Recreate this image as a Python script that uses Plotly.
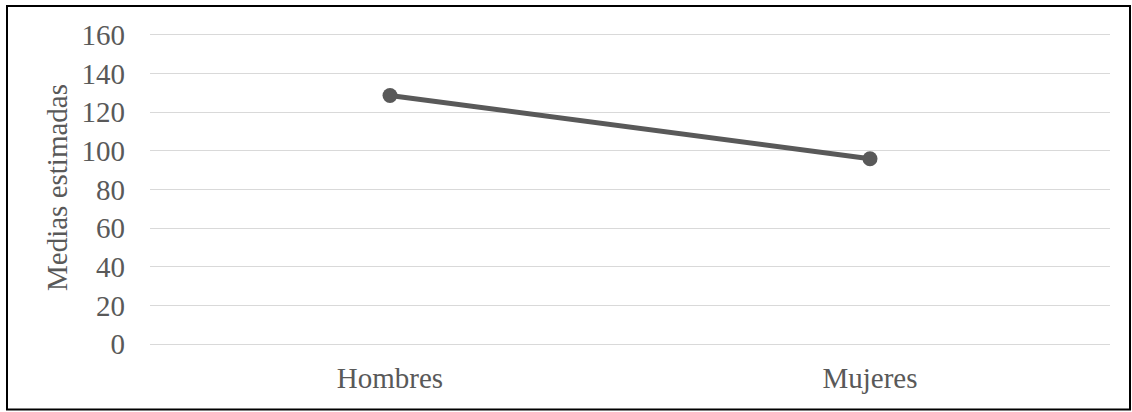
import plotly.graph_objects as go

categories = ["Hombres", "Mujeres"]
values = [128.6, 95.9]
y_ticks = [0, 20, 40, 60, 80, 100, 120, 140, 160]

W, H = 1132, 412
L, R, T, B = 150, 22, 31.1, 67.5
pw, ph = W - L - R, H - T - B

font = dict(family="Liberation Serif, Times New Roman, serif", size=29, color="#595959")

fig = go.Figure()
fig.add_trace(go.Scatter(
    x=categories, y=values, mode="lines+markers",
    line=dict(color="#595959", width=5),
    marker=dict(color="#595959", size=15),
    showlegend=False,
))

def px_to_paper_x(px):
    return (px - L) / pw

def px_to_paper_y(py):
    return (H - B - py) / ph

fig.add_shape(type="rect", xref="paper", yref="paper",
              x0=px_to_paper_x(7), x1=px_to_paper_x(1130),
              y0=px_to_paper_y(410), y1=px_to_paper_y(6),
              line=dict(color="black", width=2), fillcolor="rgba(0,0,0,0)")

fig.update_layout(
    width=W, height=H,
    margin=dict(l=L, r=R, t=T, b=B, pad=0),
    paper_bgcolor="white", plot_bgcolor="white",
    font=font,
)
fig.update_xaxes(
    type="category", range=[-0.5, 1.5],
    showgrid=False, showline=False, zeroline=False,
    ticks="", ticklabelstandoff=14,
    tickfont=font,
)
fig.update_yaxes(
    range=[0, 162], tickvals=y_ticks,
    showgrid=True, gridcolor="#d9d9d9", gridwidth=1,
    zeroline=True, zerolinecolor="#d9d9d9", zerolinewidth=1,
    showline=False, ticks="",
    ticklabelstandoff=24,
    tickfont=font,
    title=dict(text="Medias estimadas", font=font, standoff=5),
)

fig.write_html("out.html")
